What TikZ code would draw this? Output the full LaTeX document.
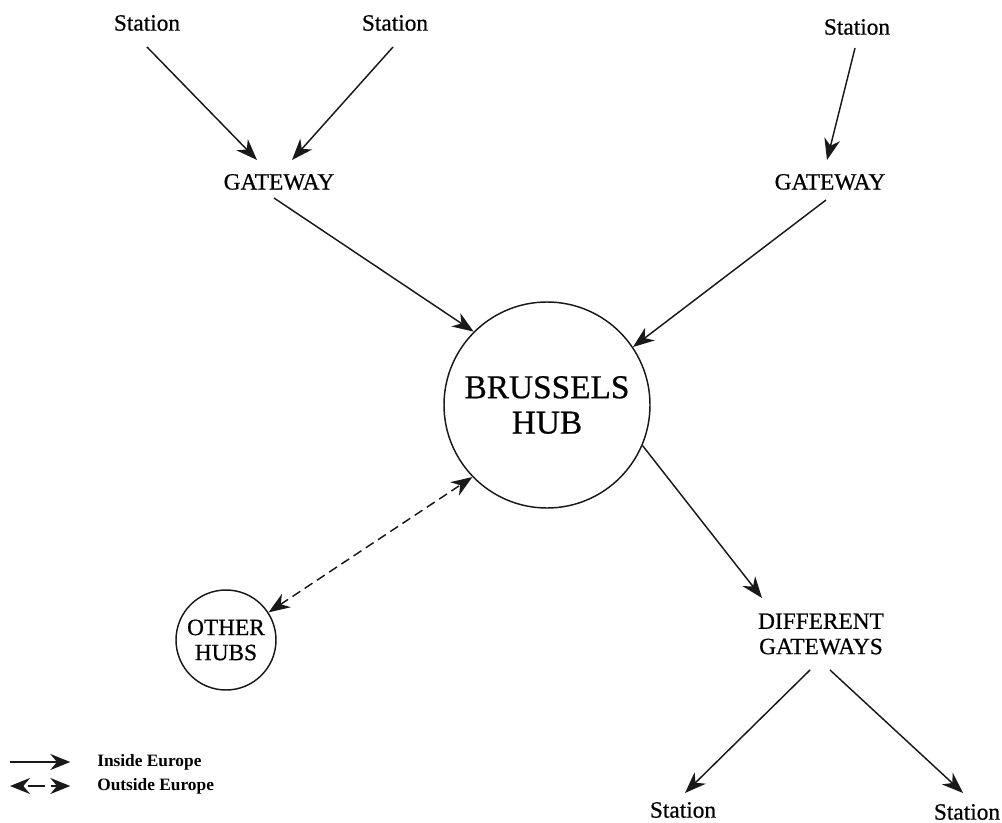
\documentclass[tikz,border=0pt]{standalone}
\usepackage{fontspec}
\setmainfont{Liberation Serif}
\newfontfamily\scanserif{Liberation Serif}[FakeBold=0.6]
\usetikzlibrary{arrows.meta}
\tikzset{
  lbl/.style={inner sep=0pt, align=center, text=black,
    font=\scanserif\fontsize{17.5}{19}\selectfont},
  hubbig/.style={circle, draw=black!90, line width=1.1pt, minimum size=154.5pt,
    inner sep=0pt, align=center, text=black,
    font=\scanserif\fontsize{25}{26.5}\selectfont},
  hubsmall/.style={circle, draw=black!90, line width=1.1pt, minimum size=75pt,
    inner sep=0pt, align=center, text=black,
    font=\scanserif\fontsize{17.5}{18.8}\selectfont},
  legtext/.style={inner sep=0pt, anchor=west, text=black,
    font=\fontsize{13}{14}\selectfont\bfseries},
  tip/.tip={Stealth[length=16pt,width=12pt,inset=5pt]},
  legtip/.tip={Stealth[length=15pt,width=12pt,inset=5pt]},
  conn/.style={draw=black!90, line width=1.1pt, -tip},
  ext/.style={draw=black!90, line width=1.1pt, tip-tip, dash pattern=on 7pt off 4pt},
  legline/.style={draw=black!90, line width=1.4pt},
}
\begin{document}
\begin{tikzpicture}[x=0.75pt,y=-0.75pt]
\useasboundingbox (0,0) rectangle (1002,823);

% stations and gateways
\node[lbl] (s1)  at (147,23)  {Station};
\node[lbl] (s2)  at (395,23)  {Station};
\node[lbl] (s3)  at (857,27)  {Station};
\node[lbl] (gw1) at (279,182) {GATEWAY};
\node[lbl] (gw2) at (830,182) {GATEWAY};

% hubs
\node[hubbig]   (hub) at (547,405) {BRUSSELS\\HUB};
\node[hubsmall] (oh)  at (226,640) {OTHER\\HUBS};

% outgoing side
\node[lbl] (dg) at (821,634) {DIFFERENT\\GATEWAYS};
\node[lbl] (s4) at (683,810) {Station};
\node[lbl] (s5) at (967,812) {Station};

% inside-Europe links
\draw[conn] ([shift={(0,24)}]s1.center)  -- ([shift={(-22,-22)}]gw1.center);
\draw[conn] ([shift={(-2,24)}]s2.center) -- ([shift={(13,-22)}]gw1.center);
\draw[conn] ([shift={(-2,21)}]s3.center) -- ([shift={(-3,-22)}]gw2.center);
\draw[conn] ([shift={(-5,16)}]gw1.center) -- (hub.135);
\draw[conn] ([shift={(-4,18)}]gw2.center) -- (hub.34);
\draw[conn] (hub.-23) -- ([shift={(-59,-36)}]dg.center);
\draw[conn] ([shift={(-11,36)}]dg.center) -- ([shift={(2,-17)}]s4.center);
\draw[conn] ([shift={(9,36)}]dg.center)   -- ([shift={(-4,-19)}]s5.center);

% outside-Europe link
\draw[ext] (oh.33) -- (hub.224);

% legend
\node[legtext] (lin)  at (97,762) {Inside Europe};
\node[legtext] (lout) at (97,786) {Outside Europe};
\coordinate (lina)  at (10,762);
\coordinate (louta) at (10,786);
\draw[legline, -legtip] (lina) -- ([xshift=-20]lin.west);
\draw[legline, legtip-legtip, dash pattern=on 13pt off 4pt, dash phase=-4pt]
  (louta) -- ([xshift=-20]lout.west);
\end{tikzpicture}
\end{document}
